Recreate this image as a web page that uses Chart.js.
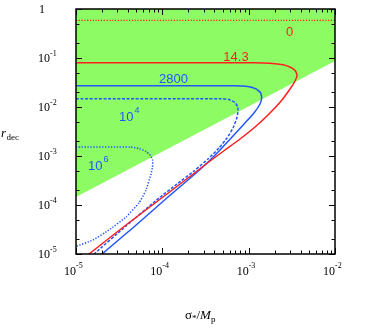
<!DOCTYPE html>
<html><head><meta charset="utf-8">
<script src="https://cdn.jsdelivr.net/npm/chart.js@4/dist/chart.umd.min.js"></script>
<style>html,body{margin:0;padding:0;background:#fff;}canvas{display:block;}</style>
</head><body>
<canvas id="c" width="370" height="329"></canvas>
<script>
// ---- data ----
const xTickExponents = [-5, -4, -3, -2];
const yTickExponents = [0, -1, -2, -3, -4, -5];
const xMinorMultipliers = [2, 3, 4, 5, 6, 7, 8, 9];
const yMinorMultipliers = [2, 5];

const greenX = [1e-5, 1e-2];
const greenY = [1.456e-4, 0.0869];

const zeroX = [1e-5, 1e-2];
const zeroY = [0.588, 0.588];

const red143X = [1e-5, 1.184e-3, 1.767e-3, 2.50e-3, 3.09e-3, 3.49e-3, 3.63e-3, 3.49e-3, 3.18e-3, 2.43e-3, 1.675e-3, 1.184e-3, 7.94e-4, 5.32e-4, 3.57e-4, 1.983e-4, 1.018e-4, 3.795e-5, 1.414e-5, 1.206e-5];
const red143Y = [0.0802, 0.0802, 0.0783, 0.0726, 0.0640, 0.0543, 0.0450, 0.0356, 0.0268, 0.0139, 6.865e-3, 3.906e-3, 2.222e-3, 1.326e-3, 7.907e-4, 3.556e-4, 1.456e-4, 3.905e-5, 1e-5, 8.05e-6];

const blue2800X = [1e-5, 6.95e-4, 9.83e-4, 1.216e-3, 1.371e-3, 1.416e-3, 1.353e-3, 1.153e-3, 9.07e-4, 6.585e-4, 4.656e-4, 3.12e-4, 1.983e-4, 1.163e-4, 4.825e-5, 2.0e-5, 1.75e-5];
const blue2800Y = [0.02721, 0.02721, 0.0262, 0.02351, 0.01976, 0.01563, 0.01151, 7.545e-3, 4.716e-3, 2.56e-3, 1.326e-3, 6.552e-4, 3.237e-4, 1.456e-4, 3.727e-5, 1e-5, 8.17e-6];

const blue1e4X = [1e-5, 4.656e-4, 5.92e-4, 6.95e-4, 7.48e-4, 7.52e-4, 7.23e-4, 6.585e-4, 5.613e-4, 4.532e-4, 3.381e-4, 2.328e-4, 1.479e-4, 9.15e-5, 3.795e-5, 1.616e-5, 1.453e-5];
const blue1e4Y = [0.01477, 0.01477, 0.01416, 0.01235, 0.01, 7.91e-3, 5.69e-3, 3.727e-3, 2.33e-3, 1.456e-3, 8.686e-4, 4.942e-4, 2.683e-4, 1.389e-4, 3.727e-5, 1e-5, 8.48e-6];

const blue1e6X = [1e-5, 4.22e-5, 5.37e-5, 6.47e-5, 7.29e-5, 7.735e-5, 7.69e-5, 7.39e-5, 6.47e-5, 5.37e-5, 3.795e-5, 2.412e-5, 1.574e-5, 1e-5, 8.52e-6];
const blue1e6Y = [1.527e-3, 1.527e-3, 1.423e-3, 1.235e-3, 1.024e-3, 8.095e-4, 5.965e-4, 4.292e-4, 2.024e-4, 1.099e-4, 5.69e-5, 3.088e-5, 1.93e-5, 1.422e-5, 1.235e-5];

// curve labels: text, superscript, anchor in data coordinates
const curveLabelText = ['0', '14.3', '2800', '10', '10'];
const curveLabelSup = ['', '', '', '4', '6'];
const curveLabelX = [2.972e-3, 7.135e-4, 1.347e-4, 3.148e-5, 1.377e-5];
const curveLabelY = [0.2747, 0.0889, 0.0313, 5.18e-3, 5.18e-4];

// ---- styles ----
const RED = '#ff1f1f';
const BLUE = '#2255ff';
const GREEN = '#8dfc64';
const curveLabelColor = [RED, RED, BLUE, BLUE, BLUE];
const curveLabelAlign = ['center', 'center', 'center', 'left', 'left'];

function pts(xs, ys) { return xs.map((x, i) => ({ x: x, y: ys[i] })); }

const axesPlugin = {
  id: 'axesPlugin',
  afterDraw(chart) {
    const ctx = chart.ctx, a = chart.chartArea, sx = chart.scales.x, sy = chart.scales.y;
    ctx.save();
    ctx.strokeStyle = '#000';
    ctx.lineWidth = 1;
    const line = (x1, y1, x2, y2) => { ctx.beginPath(); ctx.moveTo(x1, y1); ctx.lineTo(x2, y2); ctx.stroke(); };
    const MAJ = 6, MIN = 3.5;
    // x ticks
    xTickExponents.forEach(e => {
      const mults = [1].concat(e < -2 ? xMinorMultipliers : []);
      mults.forEach(m => {
        const px = Math.round(sx.getPixelForValue(m * Math.pow(10, e))) + 0.5;
        const L = m === 1 ? MAJ : MIN;
        line(px, a.bottom, px, a.bottom - L);
        line(px, a.top, px, a.top + L);
      });
    });
    // y ticks
    yTickExponents.forEach(e => {
      const mults = [1].concat(e < 0 ? yMinorMultipliers : []);
      mults.forEach(m => {
        const py = Math.round(sy.getPixelForValue(m * Math.pow(10, e))) + 0.5;
        const L = m === 1 ? MAJ : MIN;
        line(a.left, py, a.left + L, py);
        line(a.right, py, a.right - L, py);
      });
    });
    // frame
    ctx.lineWidth = 1.5;
    ctx.strokeRect(a.left, a.top, a.right - a.left, a.bottom - a.top);

    // tick labels
    ctx.fillStyle = '#000';
    ctx.textBaseline = 'alphabetic';
    const baseFont = '12px "Liberation Serif"';
    const supFont = '8px "Liberation Serif"';
    xTickExponents.forEach(e => {
      const px = sx.getPixelForValue(Math.pow(10, e));
      ctx.font = baseFont; ctx.textAlign = 'right';
      ctx.fillText('10', px, a.bottom + 21);
      ctx.font = supFont; ctx.textAlign = 'left';
      ctx.fillText(String(e), px, a.bottom + 14);
    });
    yTickExponents.forEach(e => {
      const py = sy.getPixelForValue(Math.pow(10, e));
      ctx.font = baseFont;
      if (e === 0) {
        ctx.textAlign = 'left';
        ctx.fillText('1', a.left - 37, py + 4);
      } else {
        ctx.textAlign = 'right';
        ctx.fillText('10', a.left - 26, py + 4);
        ctx.font = supFont; ctx.textAlign = 'left';
        ctx.fillText(String(e), a.left - 26, py - 2.5);
      }
    });

    // axis titles
    ctx.textAlign = 'left';
    ctx.font = 'italic 13px "Liberation Serif"';
    ctx.fillText('r', 1, 137);
    let w = ctx.measureText('r').width;
    ctx.font = '9px "Liberation Serif"';
    ctx.fillText('dec', 1 + w + 0.5, 140);

    let xx = 185;
    const seg = (t, font, dy) => { ctx.font = font; ctx.fillText(t, xx, 319 + dy); xx += ctx.measureText(t).width; };
    seg('σ', '13px "Liberation Serif"', 0);
    seg('*', '9px "Liberation Serif"', 2);
    seg('/', '13px "Liberation Serif"', 0);
    seg('M', 'italic 13px "Liberation Serif"', 0);
    seg('p', '9px "Liberation Serif"', 3);

    // curve labels
    curveLabelText.forEach((t, i) => {
      const px = sx.getPixelForValue(curveLabelX[i]);
      const py = sy.getPixelForValue(curveLabelY[i]);
      ctx.fillStyle = curveLabelColor[i];
      ctx.font = '13px "Liberation Sans"';
      ctx.textAlign = curveLabelAlign[i];
      ctx.fillText(t, px, py);
      if (curveLabelSup[i]) {
        const tw = ctx.measureText(t).width;
        ctx.font = '9px "Liberation Sans"';
        ctx.textAlign = 'left';
        ctx.fillText(curveLabelSup[i], px + tw + 1, py - 8);
      }
    });
    ctx.restore();
  }
};

const lineDs = (label, xs, ys, color, dash, width, order) => ({
  label: label, data: pts(xs, ys), showLine: true, borderColor: color,
  borderWidth: width, borderDash: dash, pointRadius: 0, fill: false,
  tension: 0.12, order: order
});

new Chart(document.getElementById('c'), {
  type: 'scatter',
  data: {
    datasets: [
      lineDs('0', zeroX, zeroY, RED, [1.2, 1.6], 1.2, 1),
      lineDs('14.3', red143X, red143Y, RED, [], 1.5, 2),
      lineDs('2800', blue2800X, blue2800Y, BLUE, [], 1.5, 3),
      lineDs('10^4', blue1e4X, blue1e4Y, BLUE, [3, 1.6], 1.5, 4),
      lineDs('10^6', blue1e6X, blue1e6Y, BLUE, [1.3, 1.6], 1.5, 5),
      {
        label: 'region', data: pts(greenX, greenY), showLine: true,
        borderWidth: 0, borderColor: GREEN, backgroundColor: GREEN,
        pointRadius: 0, fill: 'end', order: 10
      }
    ]
  },
  options: {
    responsive: false,
    devicePixelRatio: 1,
    animation: false,
    events: [],
    layout: { padding: { left: 76, top: 9, right: 35, bottom: 75 } },
    plugins: { legend: { display: false }, tooltip: { enabled: false } },
    scales: {
      x: { type: 'logarithmic', min: 1e-5, max: 1e-2, display: false },
      y: { type: 'logarithmic', min: 1e-5, max: 1, display: false }
    }
  },
  plugins: [axesPlugin]
});
</script>
</body></html>
